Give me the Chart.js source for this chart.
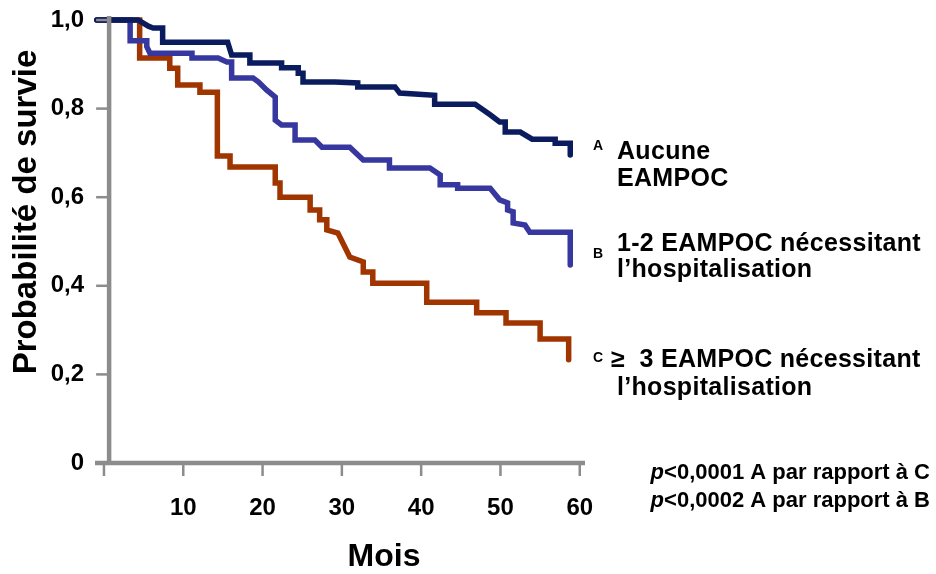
<!DOCTYPE html>
<html><head><meta charset="utf-8">
<script src="https://cdn.jsdelivr.net/npm/chart.js@4.4.1/dist/chart.umd.min.js"></script>
<style>html,body{margin:0;padding:0;background:#fff;}#wrap{width:936px;height:574px;position:relative;}</style>
</head><body><div id="wrap"><canvas id="c" width="936" height="574"></canvas></div>
<script>
// ---- data (months, survival probability) ----
const seriesLabels = ['Aucune EAMPOC', '1-2 EAMPOC nécessitant l’hospitalisation', '≥ 3 EAMPOC nécessitant l’hospitalisation'];
const aMonths   = [-0.9, 4.3, 5.6, 6.2, 7.4, 7.4, 15.6, 16.1, 18.4, 18.4, 22.4, 22.4, 24.5, 24.5, 25.1, 25.1, 29.1, 32.0, 32.0, 36.7, 37.3, 41.7, 41.7, 46.8, 48.7, 49.9, 50.6, 50.6, 52.5, 54.0, 56.9, 56.9, 58.8, 58.8];
const aSurvival = [1.0, 1.0, 0.986, 0.982, 0.982, 0.95, 0.95, 0.921, 0.921, 0.903, 0.903, 0.892, 0.892, 0.88, 0.88, 0.86, 0.86, 0.858, 0.849, 0.849, 0.835, 0.83, 0.81, 0.81, 0.786, 0.77, 0.77, 0.747, 0.747, 0.731, 0.731, 0.722, 0.722, 0.695];
const bMonths   = [-0.9, 3.3, 3.3, 5.4, 5.4, 5.8, 11.1, 11.1, 14.4, 15.5, 16.1, 16.1, 18.8, 19.5, 20.5, 21.6, 21.6, 22.4, 24.1, 24.1, 26.6, 27.5, 31.0, 32.7, 36.0, 36.0, 41.1, 42.4, 42.4, 44.6, 44.6, 48.7, 49.9, 50.9, 50.9, 51.6, 51.6, 53.1, 53.7, 58.8, 58.8];
const bSurvival = [1.0, 1.0, 0.953, 0.953, 0.94, 0.925, 0.925, 0.914, 0.914, 0.905, 0.905, 0.869, 0.869, 0.86, 0.842, 0.826, 0.774, 0.763, 0.763, 0.729, 0.729, 0.713, 0.713, 0.684, 0.684, 0.666, 0.666, 0.65, 0.628, 0.628, 0.62, 0.62, 0.594, 0.587, 0.571, 0.567, 0.542, 0.537, 0.521, 0.521, 0.447];
const cMonths   = [-0.9, 4.5, 4.5, 8.3, 8.3, 9.3, 9.3, 12.1, 12.1, 14.3, 14.3, 15.9, 15.9, 21.6, 21.6, 22.2, 22.2, 26.0, 26.0, 27.2, 27.2, 28.1, 28.1, 29.5, 31.0, 32.7, 32.7, 33.9, 33.9, 40.7, 40.7, 47.0, 47.0, 50.7, 50.7, 55.0, 55.0, 58.6, 58.6];
const cSurvival = [1.0, 1.0, 0.914, 0.914, 0.891, 0.891, 0.853, 0.853, 0.837, 0.837, 0.693, 0.693, 0.668, 0.668, 0.632, 0.632, 0.60, 0.60, 0.571, 0.571, 0.549, 0.549, 0.526, 0.519, 0.465, 0.454, 0.431, 0.431, 0.406, 0.406, 0.363, 0.363, 0.339, 0.339, 0.316, 0.316, 0.28, 0.28, 0.233];

const xTickValues = [0, 10, 20, 30, 40, 50, 60];
const xTickLabels = ['', '10', '20', '30', '40', '50', '60'];
const yTickValues = [0, 0.2, 0.4, 0.6, 0.8, 1.0];
const yTickLabels = ['0', '0,2', '0,4', '0,6', '0,8', '1,0'];
const xAxisTitle = 'Mois';
const yAxisTitle = 'Probabilité de survie';
const yAxisCrossMonth = 0.65;

const colA = '#0b1c5e', colB = '#3737a0', colC = '#a03500';
const axisGray = '#8c8c8c';
const FONT = '"Liberation Sans", Arial, Helvetica, sans-serif';

function pts(xs, ys) { return xs.map((x, i) => ({ x: x, y: ys[i] })); }

const refAxes = {
  id: 'refAxes',
  afterDatasetsDraw(chart) {
    const ctx = chart.ctx, xs = chart.scales.x, ys = chart.scales.y;
    const ca = chart.chartArea;
    const yx = xs.getPixelForValue(yAxisCrossMonth);
    const y0 = ys.getPixelForValue(0);
    ctx.save();
    ctx.strokeStyle = axisGray;
    ctx.lineCap = 'butt';
    ctx.lineWidth = 2.5;
    yTickValues.forEach(v => {
      const p = ys.getPixelForValue(v);
      ctx.beginPath(); ctx.moveTo(yx - 13, p); ctx.lineTo(yx, p); ctx.stroke();
    });
    xTickValues.forEach(v => {
      const p = xs.getPixelForValue(v);
      ctx.beginPath(); ctx.moveTo(p, y0); ctx.lineTo(p, y0 + 13); ctx.stroke();
    });
    ctx.lineWidth = 4.5;
    ctx.beginPath(); ctx.moveTo(yx, ca.top - 4); ctx.lineTo(yx, y0 + 2); ctx.stroke();
    ctx.beginPath(); ctx.moveTo(ca.left, y0); ctx.lineTo(ca.right, y0); ctx.stroke();
    ctx.restore();
  }
};

const refText = {
  id: 'refText',
  afterDraw(chart) {
    const ctx = chart.ctx;
    ctx.save();
    ctx.fillStyle = '#000';
    ctx.textBaseline = 'middle';
    ctx.textAlign = 'center';
    ctx.font = 'bold 32px ' + FONT;
    ctx.fillText(xAxisTitle, 384, 557);
    ctx.save();
    ctx.translate(27, 212);
    ctx.rotate(-Math.PI / 2);
    ctx.font = 'bold 33px ' + FONT;
    ctx.fillText(yAxisTitle, 0, 0);
    ctx.restore();
    ctx.textAlign = 'left';
    ctx.font = 'bold 14px ' + FONT;
    ctx.fillText('A', 593, 146);
    ctx.fillText('B', 593, 254);
    ctx.fillText('C', 593, 358);
    ctx.font = 'bold 25px ' + FONT;
    try { ctx.letterSpacing = '0.3px'; } catch (e) {}
    ctx.fillText('Aucune', 617, 152);
    ctx.fillText('EAMPOC', 617, 179);
    ctx.fillText('1-2 EAMPOC nécessitant', 617, 244);
    ctx.fillText('l’hospitalisation', 617, 270);
    ctx.fillText('≥  3 EAMPOC nécessitant', 611, 360);
    ctx.fillText('l’hospitalisation', 617, 388);
    try { ctx.letterSpacing = '0px'; } catch (e) {}
    const lines = [['p', '<0,0001 A par rapport à C', 473], ['p', '<0,0002 A par rapport à B', 501]];
    lines.forEach(l => {
      ctx.font = 'bold 22px ' + FONT;
      const w2 = ctx.measureText(l[1]).width;
      ctx.font = 'italic bold 22px ' + FONT;
      const w1 = ctx.measureText(l[0]).width;
      const x0 = 930 - w1 - w2;
      ctx.fillText(l[0], x0, l[2]);
      ctx.font = 'bold 22px ' + FONT;
      ctx.fillText(l[1], x0 + w1, l[2]);
    });
    ctx.restore();
  }
};

const lineStyle = { borderWidth: 5.5, pointRadius: 0, pointHoverRadius: 0, showLine: true, tension: 0, clip: false, borderCapStyle: 'round', borderJoinStyle: 'miter', fill: false };

new Chart(document.getElementById('c'), {
  type: 'scatter',
  data: {
    datasets: [
      Object.assign({ label: seriesLabels[0], data: pts(aMonths, aSurvival), borderColor: colA, backgroundColor: colA }, lineStyle),
      Object.assign({ label: seriesLabels[1], data: pts(bMonths, bSurvival), borderColor: colB, backgroundColor: colB }, lineStyle),
      Object.assign({ label: seriesLabels[2], data: pts(cMonths, cSurvival), borderColor: colC, backgroundColor: colC }, lineStyle)
    ]
  },
  options: {
    responsive: false,
    devicePixelRatio: 1,
    animation: false,
    layout: { padding: { left: 0, right: 351, top: 20, bottom: 0 } },
    plugins: { legend: { display: false }, tooltip: { enabled: false } },
    scales: {
      x: {
        type: 'linear', min: -1.13, max: 60.66,
        afterBuildTicks: s => { s.ticks = xTickValues.map(v => ({ value: v })); },
        afterFit: s => { s.height = 111; s.paddingLeft = 0; s.paddingRight = 0; },
        grid: { display: false, drawTicks: false },
        border: { display: false },
        ticks: { autoSkip: false, maxRotation: 0, padding: 31, color: '#000', font: { family: FONT, size: 24, weight: 'bold' }, callback: (v, i) => xTickLabels[i] }
      },
      y: {
        type: 'linear', min: 0, max: 1,
        afterBuildTicks: s => { s.ticks = yTickValues.map(v => ({ value: v })); },
        afterFit: s => { s.width = 95; s.paddingTop = 0; s.paddingBottom = 0; },
        grid: { display: false, drawTicks: false },
        border: { display: false },
        ticks: { autoSkip: false, padding: 11, color: '#000', font: { family: FONT, size: 24, weight: 'bold' }, callback: (v, i) => yTickLabels[i] }
      }
    }
  },
  plugins: [refAxes, refText]
});
</script></body></html>
